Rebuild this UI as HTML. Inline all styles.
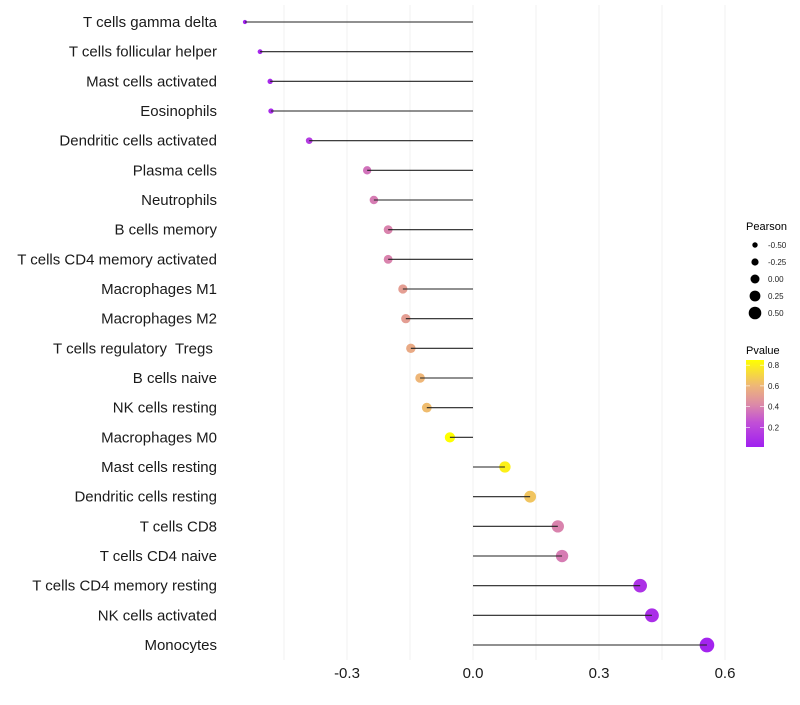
<!DOCTYPE html>
<html><head><meta charset="utf-8"><style>
body{margin:0;background:#fff;font-family:"Liberation Sans",sans-serif}
text{white-space:pre}
</style></head><body>
<svg id="chart" width="800" height="700" xmlns="http://www.w3.org/2000/svg" font-family="Liberation Sans, sans-serif"></svg>
<script>
const categories=["T cells gamma delta","T cells follicular helper","Mast cells activated","Eosinophils","Dendritic cells activated","Plasma cells","Neutrophils","B cells memory","T cells CD4 memory activated","Macrophages M1","Macrophages M2","T cells regulatory  Tregs ","B cells naive","NK cells resting","Macrophages M0","Mast cells resting","Dendritic cells resting","T cells CD8","T cells CD4 naive","T cells CD4 memory resting","NK cells activated","Monocytes"];
const pearson=[-0.543,-0.507,-0.483,-0.481,-0.39,-0.252,-0.236,-0.202,-0.202,-0.167,-0.16,-0.148,-0.126,-0.11,-0.055,0.076,0.136,0.202,0.212,0.398,0.426,0.557];
const pvalue=[0.02,0.05,0.06,0.07,0.15,0.35,0.38,0.4,0.4,0.5,0.5,0.55,0.6,0.62,0.85,0.8,0.65,0.4,0.38,0.1,0.08,0.03];
const xTicks=[-0.3,0,0.3,0.6];
const xTickLabels=["-0.3","0.0","0.3","0.6"];
const gridVals=[-0.45,-0.3,-0.15,0,0.15,0.3,0.45,0.6];
const sizeLegend=[-0.5,-0.25,0,0.25,0.5];
const sizeLegendLabels=["-0.50","-0.25","0.00","0.25","0.50"];
const pLegend=[0.2,0.4,0.6,0.8];

const svg=document.getElementById('chart');
const NS='http://www.w3.org/2000/svg';
function mk(t,a,p){const e=document.createElementNS(NS,t);for(const k in a)e.setAttribute(k,a[k]);(p||svg).appendChild(e);return e;}
const x=v=>473+v*420;
const y=i=>22+i*29.667;
const r=v=>Math.sqrt(Math.max(3,4+45*(v+0.55)));
const stops=[[0.01,[160,32,240]],[0.25,[194,80,214]],[0.42,[220,138,168]],[0.6,[238,182,120]],[0.85,[255,255,0]]];
function col(p){if(p<=stops[0][0])return rgb(stops[0][1]);for(let i=1;i<stops.length;i++){if(p<=stops[i][0]){const t=(p-stops[i-1][0])/(stops[i][0]-stops[i-1][0]);const a=stops[i-1][1],b=stops[i][1];return rgb(a.map((c,j)=>c+(b[j]-c)*t));}}return rgb(stops[stops.length-1][1]);}
function rgb(c){return 'rgb('+c.map(Math.round).join(',')+')';}

gridVals.forEach(v=>{const g=mk('line',{x1:x(v),x2:x(v),y1:5,y2:660,stroke:'#f0f0f0','stroke-width':1});

});

categories.forEach((c,i)=>{
const t=mk('text',{x:217,y:y(i)+5,'text-anchor':'end','font-size':15,fill:'#1a1a1a'});t.textContent=c;


const d=mk('circle',{cx:x(pearson[i]),cy:y(i),r:r(pearson[i]),fill:col(pvalue[i])});


const l=mk('line',{x1:x(0),x2:x(pearson[i]),y1:y(i),y2:y(i),stroke:'#222','stroke-width':1.1});


});
xTicks.forEach((v,i)=>{const t=mk('text',{x:x(v),y:678,'text-anchor':'middle','font-size':15,fill:'#1a1a1a'});t.textContent=xTickLabels[i];

});

const st=mk('text',{x:746,y:230,'font-size':11,fill:'#000'});st.textContent='Pearson';


sizeLegend.forEach((v,i)=>{const cy=245+i*17;
const c=mk('circle',{cx:755,cy:cy,r:2.7+i*0.9,fill:'#000'});


const t=mk('text',{x:768,y:cy+3,'font-size':8,fill:'#222'});t.textContent=sizeLegendLabels[i];

});

const ct=mk('text',{x:746,y:354,'font-size':11,fill:'#000'});ct.textContent='Pvalue';


const defs=mk('defs',{});const lg=mk('linearGradient',{id:'pg',x1:0,y1:1,x2:0,y2:0},defs);
stops.forEach(s=>mk('stop',{offset:((s[0]-0.01)/0.84),'stop-color':rgb(s[1])},lg));
const py=p=>447-(p-0.01)/0.84*87;
const bar=mk('rect',{x:746,y:360,width:18,height:87,fill:'url(#pg)'});


pLegend.forEach(p=>{mk('line',{x1:746,x2:750,y1:py(p),y2:py(p),stroke:'#fff','stroke-width':0.6});mk('line',{x1:760,x2:764,y1:py(p),y2:py(p),stroke:'#fff','stroke-width':0.6});
const t=mk('text',{x:768,y:py(p)+3,'font-size':8,fill:'#222'});t.textContent=p.toFixed(1);

});
</script>
</body></html>
